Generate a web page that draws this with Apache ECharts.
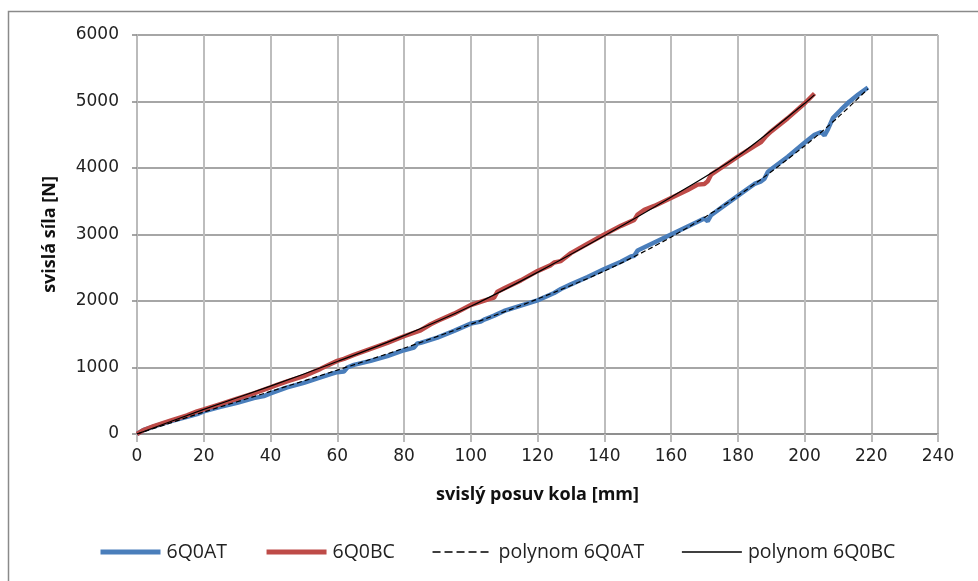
<!DOCTYPE html>
<html>
<head>
<meta charset="utf-8">
<script src="https://cdn.jsdelivr.net/npm/echarts@6/dist/echarts.min.js"></script>
<style>
	html, body { margin: 0; padding: 0; background: #fff; }
	#chart { width: 978px; height: 581px; }
</style>
</head>
<body>
<div id="chart"></div>
<script>
// measured series, [posuv mm, sila N]
var seriesNames = ['6Q0AT', '6Q0BC', 'polynom 6Q0AT', 'polynom 6Q0BC'];
var xTicks = [0, 20, 40, 60, 80, 100, 120, 140, 160, 180, 200, 220, 240];
var yTicks = [0, 1000, 2000, 3000, 4000, 5000, 6000];

var data6Q0AT = [
	[0, 0], [2, 60], [5, 110], [10, 190], [15, 260], [18, 300], [20, 340], [25, 410],
	[30, 470], [35, 540], [38, 570], [40, 610], [45, 700], [50, 770], [55, 850], [58, 900],
	[60, 930], [62, 940], [63, 1000], [65, 1040], [70, 1100], [75, 1170], [80, 1260], [83, 1300],
	[84, 1360], [85, 1370], [90, 1450], [95, 1550], [100, 1660], [103, 1690], [104, 1720], [105, 1740],
	[107, 1780], [110, 1850], [115, 1930], [120, 2010], [125, 2120], [127, 2180], [130, 2250], [135, 2360],
	[140, 2480], [145, 2590], [148, 2670], [149, 2680], [150, 2760], [155, 2880], [160, 3000], [165, 3120],
	[170, 3240], [171, 3200], [172, 3290], [175, 3400], [180, 3580], [185, 3760], [187, 3800], [188, 3840],
	[189, 3940], [190, 3980], [195, 4170], [200, 4380], [203, 4500], [205, 4540], [206, 4490], [207, 4580],
	[208.5, 4750], [211, 4880], [213.5, 5000], [216, 5100], [219, 5210]
];

var data6Q0BC = [
	[0, 0], [2, 60], [5, 120], [10, 200], [15, 280], [18, 340], [20, 370], [25, 450],
	[30, 530], [35, 610], [40, 700], [42, 740], [45, 790], [50, 870], [55, 980], [60, 1100],
	[62, 1130], [65, 1190], [70, 1280], [75, 1370], [80, 1470], [85, 1560], [88, 1650], [90, 1700],
	[95, 1810], [100, 1940], [105, 2020], [107, 2050], [108, 2140], [110, 2190], [115, 2310], [120, 2450],
	[124, 2540], [125, 2580], [127, 2600], [130, 2720], [135, 2860], [140, 3000], [145, 3130], [149, 3220],
	[150, 3300], [152, 3370], [155, 3430], [160, 3550], [165, 3670], [168, 3750], [170, 3760], [171, 3800],
	[172, 3900], [175, 4000], [180, 4170], [185, 4330], [187, 4390], [187.5, 4370], [188.5, 4480], [190, 4550],
	[195, 4750], [200, 4970], [203, 5120]
];

var dataPoly6Q0AT = [
	[0, 0], [20, 330], [40, 640], [60, 960], [80, 1290], [100, 1650], [120, 2030],
	[140, 2450], [160, 2960], [180, 3580], [200, 4330], [210, 4760], [219, 5190]
];

var dataPoly6Q0BC = [
	[0, 0], [20, 370], [40, 720], [60, 1090], [80, 1480], [100, 1920], [120, 2430],
	[140, 2980], [160, 3560], [180, 4180], [200, 4970], [203, 5100]
];

var chart = echarts.init(document.getElementById('chart'));

var tickFont = { fontFamily: 'DejaVu Sans', fontSize: 17, color: '#222' };
var titleFont = { fontFamily: 'Open Sans', fontSize: 18, fontWeight: 'bold', color: '#111' };

var option = {
	animation: false,
	backgroundColor: '#fff',
	graphic: [{
		type: 'rect',
		shape: { x: 8.5, y: 11.5, width: 1200, height: 1200 },
		style: { fill: 'none', stroke: '#8a8a8a', lineWidth: 1.5 },
		silent: true
	}],
	grid: { left: 137, right: 40, top: 35, bottom: 147, containLabel: false },
	legend: {
		bottom: 14,
		left: 93,
		itemGap: 37,
		itemWidth: 60,
		itemHeight: 14,
		itemStyle: { opacity: 0 },
		textStyle: { fontFamily: 'Open Sans', fontSize: 19.5, color: '#222', padding: [0, 0, 0, 1] },
		data: [
			{ name: seriesNames[0], lineStyle: { width: 5 } },
			{ name: seriesNames[1], lineStyle: { width: 5 } },
			{ name: seriesNames[2], lineStyle: { width: 1.3, type: [8, 4] } },
			{ name: seriesNames[3], lineStyle: { width: 1.3 } }
		]
	},
	xAxis: {
		type: 'value',
		min: xTicks[0],
		max: xTicks[xTicks.length - 1],
		interval: 20,
		name: 'svislý posuv kola [mm]',
		nameLocation: 'middle',
		nameGap: 52,
		nameTextStyle: titleFont,
		axisLine: { show: true, lineStyle: { color: '#888', width: 1.5 } },
		axisTick: { show: true, inside: false, length: 8, lineStyle: { color: '#bbb', width: 2 } },
		axisLabel: Object.assign({ margin: 14 }, tickFont),
		splitLine: { show: true, lineStyle: { color: '#bdbdbd', width: 2 } }
	},
	yAxis: {
		type: 'value',
		min: yTicks[0],
		max: yTicks[yTicks.length - 1],
		interval: 1000,
		name: 'svislá síla [N]',
		nameLocation: 'middle',
		nameGap: 78,
		nameTextStyle: titleFont,
		axisLine: { show: true, lineStyle: { color: '#bbb', width: 2 } },
		axisTick: { show: true, inside: false, length: 5, lineStyle: { color: '#888', width: 1.5 } },
		axisLabel: Object.assign({ margin: 18, formatter: function(v){ return String(v); } }, tickFont),
		splitLine: { show: true, lineStyle: { color: '#888', width: 1.5 } }
	},
	series: [{
		name: seriesNames[0],
		type: 'line',
		data: data6Q0AT,
		symbol: 'none',
		color: '#4a7ebb',
		lineStyle: { width: 4.5, color: '#4a7ebb' },
		z: 2
	}, {
		name: seriesNames[1],
		type: 'line',
		data: data6Q0BC,
		symbol: 'none',
		color: '#be4b48',
		lineStyle: { width: 4.5, color: '#be4b48' },
		z: 2
	}, {
		name: seriesNames[2],
		type: 'line',
		data: dataPoly6Q0AT,
		symbol: 'none',
		smooth: 0.3,
		color: '#000',
		lineStyle: { width: 1.2, color: '#000', type: [5, 3] },
		z: 3
	}, {
		name: seriesNames[3],
		type: 'line',
		data: dataPoly6Q0BC,
		symbol: 'none',
		smooth: 0.3,
		color: '#000',
		lineStyle: { width: 1.2, color: '#000' },
		z: 3
	}]
};

chart.setOption(option);
</script>
</body>
</html>
